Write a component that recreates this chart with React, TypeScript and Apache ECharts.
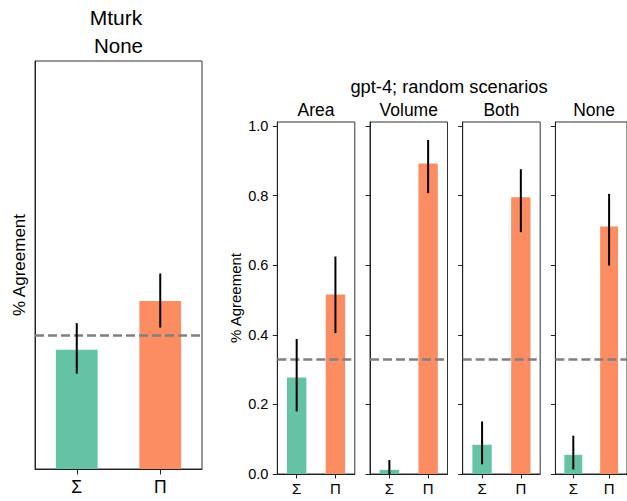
import React, { useEffect, useRef } from "react";
import * as echarts from "echarts";

const categories = ["Σ", "Π"];
const mturkMean = [0.295, 0.416];
const mturkLow = [0.236, 0.35];
const mturkHigh = [0.361, 0.484];

const panels = ["Area", "Volume", "Both", "None"];
const sigmaMean = [0.277, 0.012, 0.084, 0.055];
const sigmaLow = [0.18, 0.0, 0.028, 0.013];
const sigmaHigh = [0.388, 0.04, 0.151, 0.11];
const piMean = [0.516, 0.892, 0.795, 0.711];
const piLow = [0.405, 0.807, 0.695, 0.599];
const piHigh = [0.625, 0.96, 0.876, 0.805];

const yTicks = [0, 0.2, 0.4, 0.6, 0.8, 1.0];
const chance = 1 / 3;

const GREEN = "#66c2a5";
const ORANGE = "#fc8d62";
const FONT = "Liberation Sans, Arial, sans-serif";

export default function App() {
  const ref = useRef<HTMLDivElement>(null);
  useEffect(() => {
    if (!ref.current) return;
    const chart = echarts.init(ref.current, null, { renderer: "svg" });

    const grids: any[] = [];
    const xAxes: any[] = [];
    const yAxes: any[] = [];
    const series: any[] = [];
    const graphics: any[] = [];

    const addPanel = (
      idx: number,
      left: number,
      top: number,
      width: number,
      height: number,
      ymax: number,
      means: number[],
      lows: number[],
      highs: number[],
      big: boolean,
      showYLabels: boolean,
      showYTicks: boolean
    ) => {
      grids.push({
        left,
        top,
        width,
        height,
        show: true,
        borderColor: "#333",
        borderWidth: 1,
        backgroundColor: "transparent",
      });
      xAxes.push({
        type: "category",
        gridIndex: idx,
        data: categories,
        boundaryGap: true,
        axisLine: { show: true, lineStyle: { color: "#222", width: 1 } },
        axisTick: { show: true, alignWithLabel: true, length: big ? 5.5 : 4.5, lineStyle: { color: "#222" } },
        axisLabel: { color: "#000", fontSize: big ? 17.5 : 15, fontFamily: FONT, margin: big ? 9 : 7 },
        splitLine: { show: false },
      });
      yAxes.push({
        type: "value",
        gridIndex: idx,
        min: 0,
        max: ymax,
        splitLine: { show: false },
        axisLine: { show: true, lineStyle: { color: "#222", width: 1 } },
        axisTick: {
          show: showYTicks,
          length: 4.5,
          customValues: yTicks,
          lineStyle: { color: "#222" },
        },
        axisLabel: {
          show: showYLabels,
          customValues: yTicks,
          color: "#000",
          fontSize: 14.5,
          fontFamily: FONT,
          margin: 9,
          formatter: (v: number) => v.toFixed(1),
        },
      });
      series.push({
        type: "bar",
        xAxisIndex: idx,
        yAxisIndex: idx,
        barWidth: "50%",
        data: means.map((m, i) => ({
          value: m,
          itemStyle: { color: i === 0 ? GREEN : ORANGE },
        })),
        markLine: {
          silent: true,
          symbol: "none",
          label: { show: false },
          lineStyle: { color: "#808080", type: [9, 4], width: 2.7 },
          data: [{ yAxis: chance }],
        },
        z: 2,
      });
      series.push({
        type: "custom",
        xAxisIndex: idx,
        yAxisIndex: idx,
        data: means.map((_, i) => [i, lows[i], highs[i]]),
        encode: { x: 0, y: [1, 2] },
        renderItem: (params: any, api: any) => {
          const x = api.value(0);
          const a = api.coord([x, api.value(1)]);
          const b = api.coord([x, api.value(2)]);
          return {
            type: "line",
            shape: { x1: a[0], y1: a[1], x2: b[0], y2: b[1] },
            style: { stroke: "#000", lineWidth: 2 },
          };
        },
        z: 5,
      });
    };

    // Left Mturk panel
    addPanel(0, 35, 61, 167, 408, 408 / 404, mturkMean, mturkLow, mturkHigh, true, false, false);

    // Right gpt-4 panels
    const rLeft0 = 277.3;
    const rStep = 92.7;
    const rWidth = 77.5;
    panels.forEach((p, i) => {
      addPanel(
        i + 1,
        rLeft0 + i * rStep,
        122,
        rWidth,
        352,
        352 / 348,
        [sigmaMean[i], piMean[i]],
        [sigmaLow[i], piLow[i]],
        [sigmaHigh[i], piHigh[i]],
        false,
        i === 0,
        true
      );
      graphics.push({
        type: "text",
        x: rLeft0 + i * rStep + rWidth / 2,
        y: 110,
        style: {
          text: p,
          fill: "#000",
          font: `17.5px ${FONT}`,
          align: "center",
          verticalAlign: "middle",
        },
      });
    });

    graphics.push(
      {
        type: "text",
        x: 116,
        y: 17,
        style: { text: "Mturk", fill: "#000", font: `21px ${FONT}`, align: "center", verticalAlign: "middle" },
      },
      {
        type: "text",
        x: 118.5,
        y: 45,
        style: { text: "None", fill: "#000", font: `20.5px ${FONT}`, align: "center", verticalAlign: "middle" },
      },
      {
        type: "text",
        x: 449,
        y: 86,
        style: {
          text: "gpt-4; random scenarios",
          fill: "#000",
          font: `18.3px ${FONT}`,
          align: "center",
          verticalAlign: "middle",
        },
      },
      {
        type: "text",
        x: 19,
        y: 265,
        rotation: Math.PI / 2,
        style: { text: "% Agreement", fill: "#000", font: `17px ${FONT}`, align: "center", verticalAlign: "middle" },
      },
      {
        type: "text",
        x: 235,
        y: 298,
        rotation: Math.PI / 2,
        style: { text: "% Agreement", fill: "#000", font: `15px ${FONT}`, align: "center", verticalAlign: "middle" },
      }
    );

    chart.setOption({
      animation: false,
      backgroundColor: "#fff",
      grid: grids,
      xAxis: xAxes,
      yAxis: yAxes,
      series,
      graphic: graphics,
    });
    return () => chart.dispose();
  }, []);

  return (
    <div
      ref={ref}
      style={{ position: "absolute", left: 0, top: 0, width: 627, height: 501, background: "#fff" }}
    />
  );
}
